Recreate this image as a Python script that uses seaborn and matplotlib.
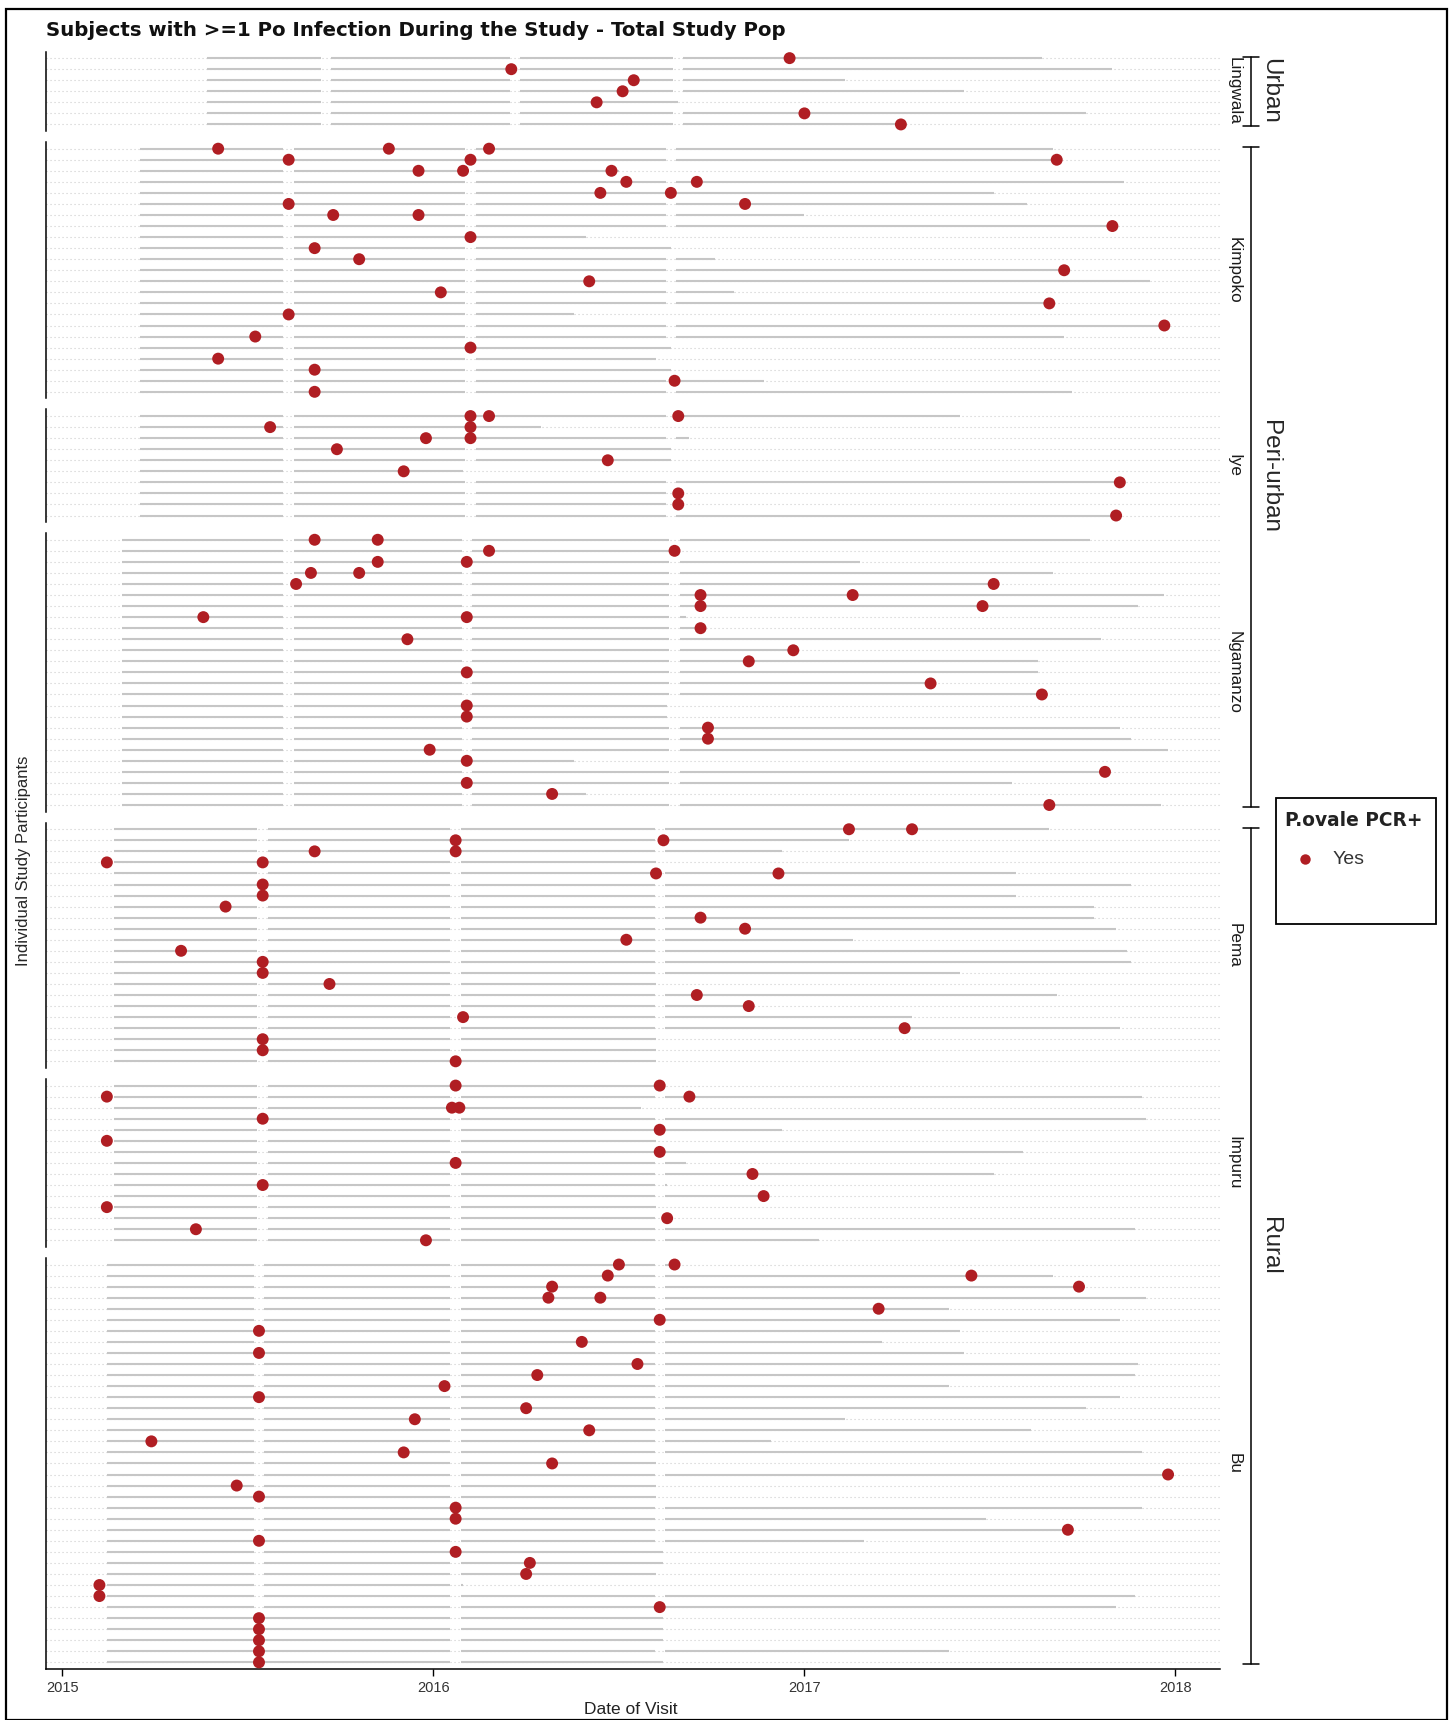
import numpy as np
import pandas as pd
import matplotlib
matplotlib.use('Agg')
import matplotlib.pyplot as plt
from matplotlib.patches import Rectangle
from matplotlib.lines import Line2D
import seaborn as sns

# villages, top to bottom, and their setting
villages = ['Lingwala', 'Kimpoko', 'Iye', 'Ngamanzo', 'Pema', 'Impuru', 'Bu']
settings = ['Urban', 'Peri-urban', 'Peri-urban', 'Peri-urban', 'Rural', 'Rural', 'Rural']

# enrolment date per village (decimal year) and visit rounds that nobody attended
village_start = [2015.39, 2015.21, 2015.21, 2015.16, 2015.14, 2015.14, 2015.12]
village_gaps = [[2015.71, 2016.22, 2016.66],
                [2015.61, 2016.10, 2016.64],
                [2015.61, 2016.10, 2016.64],
                [2015.61, 2016.09, 2016.65],
                [2015.54, 2016.06, 2016.61],
                [2015.54, 2016.06, 2016.61],
                [2015.53, 2016.06, 2016.61]]

# last visit of each participant
lingwala_end = [2017.64, 2017.83, 2017.11, 2017.43, 2016.66, 2017.76, 2017.26]
kimpoko_end = [2017.67, 2017.68, 2016.50, 2017.86, 2017.51, 2017.60, 2017.00, 2017.83, 2016.41, 2016.64,
               2016.76, 2017.70, 2017.93, 2016.81, 2017.66, 2016.38, 2017.97, 2017.70, 2016.64, 2016.60,
               2016.64, 2016.89, 2017.72]
iye_end = [2017.42, 2016.29, 2016.69, 2016.64, 2016.64, 2016.08, 2017.85, 2016.66, 2016.66, 2017.84]
ngamanzo_end = [2017.77, 2016.65, 2017.15, 2017.67, 2017.51, 2017.97, 2017.90, 2016.68, 2016.72, 2017.80,
                2016.97, 2017.63, 2017.63, 2017.34, 2017.64, 2016.63, 2016.63, 2017.85, 2017.88, 2017.98,
                2016.38, 2017.81, 2017.56, 2016.41, 2017.96]
pema_end = [2017.66, 2017.12, 2016.94, 2016.60, 2017.57, 2017.88, 2017.57, 2017.78, 2017.78, 2017.84,
            2017.13, 2017.87, 2017.88, 2017.42, 2016.60, 2017.68, 2016.85, 2017.29, 2017.85, 2016.60,
            2016.60, 2016.60]
impuru_end = [2016.61, 2017.91, 2016.56, 2017.92, 2016.94, 2016.60, 2017.59, 2016.68, 2017.51, 2016.63,
              2016.89, 2016.60, 2016.63, 2017.89, 2017.04]
bu_end = [2016.65, 2017.67, 2017.74, 2017.92, 2017.39, 2017.85, 2017.42, 2017.21, 2017.43, 2017.90,
          2017.89, 2017.39, 2017.85, 2017.76, 2017.11, 2017.61, 2016.91, 2017.91, 2016.60, 2017.98,
          2016.60, 2016.60, 2017.91, 2017.49, 2017.71, 2017.16, 2016.62, 2016.62, 2016.60, 2016.08,
          2017.89, 2017.84, 2016.62, 2016.62, 2016.62, 2017.39, 2016.62]

# visits with a P. ovale PCR+ result
lingwala_po = [[2016.96], [2016.21], [2016.54], [2016.51], [2016.44], [2017.00], [2017.26]]
kimpoko_po = [[2015.42, 2015.88, 2016.15], [2015.61, 2016.10, 2017.68], [2015.96, 2016.08, 2016.48],
              [2016.52, 2016.71], [2016.45, 2016.64], [2015.61, 2016.84], [2015.73, 2015.96], [2017.83],
              [2016.10], [2015.68], [2015.80], [2017.70], [2016.42], [2016.02], [2017.66], [2015.61],
              [2017.97], [2015.52], [2016.10], [2015.42], [2015.68], [2016.65], [2015.68]]
iye_po = [[2016.10, 2016.15, 2016.66], [2015.56, 2016.10], [2015.98, 2016.10], [2015.74], [2016.47],
          [2015.92], [2017.85], [2016.66], [2016.66], [2017.84]]
ngamanzo_po = [[2015.68, 2015.85], [2016.15, 2016.65], [2015.85, 2016.09], [2015.67, 2015.80],
               [2015.63, 2017.51], [2016.72, 2017.13], [2016.72, 2017.48], [2015.38, 2016.09], [2016.72],
               [2015.93], [2016.97], [2016.85], [2016.09], [2017.34], [2017.64], [2016.09], [2016.09],
               [2016.74], [2016.74], [2015.99], [2016.09], [2017.81], [2016.09], [2016.32], [2017.66]]
pema_po = [[2017.12, 2017.29], [2016.06, 2016.62], [2015.68, 2016.06], [2015.12, 2015.54], [2016.60, 2016.93],
           [2015.54], [2015.54], [2015.44], [2016.72], [2016.84], [2016.52], [2015.32], [2015.54], [2015.54],
           [2015.72], [2016.71], [2016.85], [2016.08], [2017.27], [2015.54], [2015.54], [2016.06]]
impuru_po = [[2016.06, 2016.61], [2015.12, 2016.69], [2016.05, 2016.07], [2015.54], [2016.61], [2015.12],
             [2016.61], [2016.06], [2016.86], [2015.54], [2016.89], [2015.12], [2016.63], [2015.36], [2015.98]]
bu_po = [[2016.50, 2016.65], [2016.47, 2017.45], [2016.32, 2017.74], [2016.31, 2016.45], [2017.20], [2016.61],
         [2015.53], [2016.40], [2015.53], [2016.55], [2016.28], [2016.03], [2015.53], [2016.25], [2015.95],
         [2016.42], [2015.24], [2015.92], [2016.32], [2017.98], [2015.47], [2015.53], [2016.06], [2016.06],
         [2017.71], [2015.53], [2016.06], [2016.26], [2016.25], [2015.10], [2015.10], [2016.61], [2015.53],
         [2015.53], [2015.53], [2015.53], [2015.53]]

year_ticks = [2015, 2016, 2017, 2018]

all_end = [lingwala_end, kimpoko_end, iye_end, ngamanzo_end, pema_end, impuru_end, bu_end]
all_po = [lingwala_po, kimpoko_po, iye_po, ngamanzo_po, pema_po, impuru_po, bu_po]

# long table of positive visits
recs = []
for v, po in zip(villages, all_po):
    for r, dates in enumerate(po):
        for d in dates:
            recs.append({'village': v, 'row': r, 'date': d})
df = pd.DataFrame(recs)

sns.set_theme(style='white')
plt.rcParams['font.family'] = ['Liberation Sans', 'DejaVu Sans']

W, H = 1451, 1720
RED = '#B01E23'
LINE = '#c6c6c6'

fig = plt.figure(figsize=(W / 100, H / 100), dpi=100)
counts = [len(e) for e in all_end]
gs = fig.add_gridspec(len(villages), 1, height_ratios=[n + 0.2 for n in counts],
                      left=46 / W, right=1220 / W, top=1 - 51.5 / H, bottom=1 - 1669 / H, hspace=0.0496)

gw = 0.014
axes = []
for i, v in enumerate(villages):
    ax = fig.add_subplot(gs[i])
    n = counts[i]
    ax.set_axisbelow(True)
    s = village_start[i]
    for r, e in enumerate(all_end[i]):
        edges = [s]
        for g in village_gaps[i]:
            if s + gw < g < e - gw:
                edges += [g - gw, g + gw]
        edges.append(e)
        for a, b in zip(edges[::2], edges[1::2]):
            ax.hlines(r, a, b, color=LINE, lw=1.5, zorder=2)
    sub = df[df['village'] == v]
    sns.scatterplot(data=sub, x='date', y='row', color=RED, s=74, edgecolor='none',
                    ax=ax, legend=False, zorder=3)
    ax.set_xlim(2014.956, 2018.12)
    ax.set_ylim(n - 0.4, -0.6)
    ax.set_yticks(range(n))
    ax.grid(False)
    ax.yaxis.grid(True, linestyle=(0, (1, 2.6)), color='#cdcdcd', lw=0.8)
    ax.tick_params(left=False, labelleft=False)
    ax.set_xlabel('')
    ax.set_ylabel('')
    for sp in ['top', 'right']:
        ax.spines[sp].set_visible(False)
    ax.spines['left'].set_color('black')
    ax.spines['left'].set_linewidth(1.1)
    ax.set_xticks(year_ticks)
    if i == len(villages) - 1:
        ax.spines['bottom'].set_color('black')
        ax.spines['bottom'].set_linewidth(1.1)
        ax.set_xticklabels([str(y) for y in year_ticks])
        ax.tick_params(axis='x', bottom=True, length=5, width=1, color='black',
                       labelsize=10.5, labelcolor='#333333', pad=4)
    else:
        ax.spines['bottom'].set_visible(False)
        ax.tick_params(axis='x', bottom=False, labelbottom=False)
    pos = ax.get_position()
    fig.text(1234 / W, (pos.y0 + pos.y1) / 2, v, rotation=270, fontsize=12.3,
             ha='center', va='center', color='#1a1a1a')
    axes.append(ax)

# setting brackets on the right
inset = 5 / H
for grp in ['Urban', 'Peri-urban', 'Rural']:
    idx = [k for k, g in enumerate(settings) if g == grp]
    top = axes[idx[0]].get_position().y1 - inset
    bot = axes[idx[-1]].get_position().y0 + inset
    x0 = 1251 / W
    fig.add_artist(Line2D([x0, x0], [bot, top], color='black', lw=1.1, transform=fig.transFigure))
    for yy in (bot, top):
        fig.add_artist(Line2D([1243 / W, 1259 / W], [yy, yy], color='black', lw=1.1,
                              transform=fig.transFigure))
    fig.text(1270 / W, (top + bot) / 2, grp, rotation=270, fontsize=17.5, ha='center', va='center')

fig.text(46 / W, 1 - 31 / H, 'Subjects with >=1 Po Infection During the Study - Total Study Pop',
         fontsize=14.2, fontweight='bold', ha='left', va='center', color='#111111', family=['DejaVu Sans'])
fig.text(24 / W, 1 - 861 / H, 'Individual Study Participants', rotation=90, fontsize=12,
         ha='center', va='center')
fig.text(631 / W, 1 - 1709 / H, 'Date of Visit', fontsize=12.5, ha='center', va='center', color='#222222')

# legend
fig.add_artist(Rectangle((1276 / W, 1 - 924 / H), 160 / W, 126 / H, fill=False, ec='black', lw=1.3,
                         transform=fig.transFigure))
fig.text(1285 / W, 1 - 821 / H, 'P.ovale PCR+', fontsize=13.4, fontweight='bold', ha='left', va='center',
         color='#222222', family=['DejaVu Sans'])
fig.add_artist(Line2D([1305 / W], [1 - 859 / H], marker='o', ms=7.5, color=RED, mec='none',
                      transform=fig.transFigure))
fig.text(1333 / W, 1 - 859 / H, 'Yes', fontsize=14, ha='left', va='center', color='#333333')

# outer frame
fig.add_artist(Rectangle((6 / W, 0.5 / H), 1441 / W, 1711 / H, fill=False, ec='black', lw=1.6,
                         transform=fig.transFigure))

fig.savefig('out.png', dpi=100, facecolor='white')
